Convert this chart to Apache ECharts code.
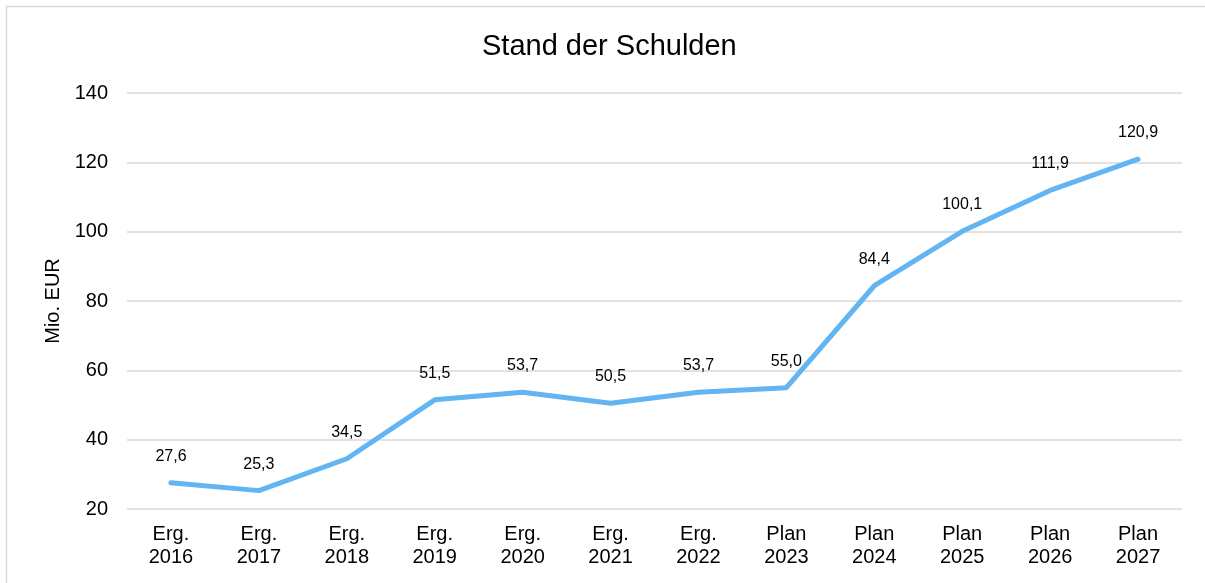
<!DOCTYPE html>
<html><head><meta charset="utf-8">
<script src="https://cdn.jsdelivr.net/npm/echarts@6/dist/echarts.min.js"></script>
<style>html,body{margin:0;padding:0;background:#fff;}#c{width:1205px;height:583px;}</style>
</head><body><div id="c"></div>
<script>
const categories = ['Erg.\n2016','Erg.\n2017','Erg.\n2018','Erg.\n2019','Erg.\n2020','Erg.\n2021','Erg.\n2022','Plan\n2023','Plan\n2024','Plan\n2025','Plan\n2026','Plan\n2027'];
const debt = [27.6, 25.3, 34.5, 51.5, 53.7, 50.5, 53.7, 55.0, 84.4, 100.1, 111.9, 120.9];
const titleText = 'Stand der Schulden';
const yAxisName = 'Mio. EUR';

const chart = echarts.init(document.getElementById('c'), null, {renderer:'canvas'});
chart.setOption({
  animation:false,
  backgroundColor:'#fff',
  graphic:[{type:'rect',shape:{x:6.5,y:6.5,width:1230,height:620},style:{fill:'none',stroke:'#d9d9d9',lineWidth:1.5},silent:true}],
  title:{text:titleText,left:482,top:32,padding:0,textStyle:{fontFamily:'Liberation Sans, Arial',fontSize:29,fontWeight:'normal',color:'#000'}},
  grid:{left:127,right:23,top:93,bottom:74},
  xAxis:{type:'category',data:categories,boundaryGap:true,
    axisLine:{show:false},axisTick:{show:false},
    axisLabel:{fontFamily:'Liberation Sans, Arial',fontSize:20,color:'#000',lineHeight:23,margin:14,interval:0}},
  yAxis:{type:'value',min:20,max:140,interval:20,
    name:yAxisName,nameLocation:'middle',nameGap:60,nameRotate:90,
    nameTextStyle:{fontFamily:'Liberation Sans, Arial',fontSize:20,color:'#000'},
    axisLine:{show:false},axisTick:{show:false},
    axisLabel:{fontFamily:'Liberation Sans, Arial',fontSize:20,color:'#000',margin:19},
    splitLine:{lineStyle:{color:'#d9d9d9',width:1.5}}},
  series:[{type:'line',data:debt,symbol:'circle',symbolSize:1,showSymbol:true,
    itemStyle:{color:'rgba(0,0,0,0)'},
    lineStyle:{color:'#62b4f2',width:5,cap:'round',join:'round'},
    label:{show:true,position:'top',distance:18,fontFamily:'Liberation Sans, Arial',fontSize:16,color:'#000',
      formatter:p=>p.value.toFixed(1).replace('.',',')}}]
});
</script></body></html>
